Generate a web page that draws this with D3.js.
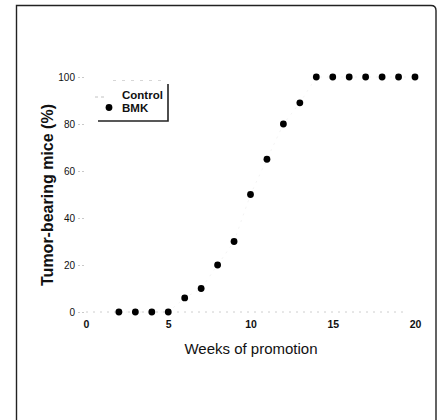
<!DOCTYPE html>
<html><head><meta charset="utf-8">
<script src="https://cdn.jsdelivr.net/npm/d3@7"></script>
<style>
html,body{margin:0;padding:0;background:#fff;}
svg{display:block;font-family:"Liberation Sans",Arial,Helvetica,sans-serif;}
</style></head>
<body>
<script>
// Data
const weeks = [2,3,4,5,6,7,8,9,10,11,12,13,14,15,16,17,18,19,20];
const bmk   = [0,0,0,0,6,10,20,30,50,65,80,89,100,100,100,100,100,100,100];
const controlWeeks = [0,2,4,6,8,10,12,14,16,18,19.5];
const control      = [0,0,0,0,0,0,0,0,0,0,0];
const xTicks = [0,5,10,15,20];
const yTicks = [0,20,40,60,80,100];
const seriesNames = ["Control","BMK"];

const W = 442, H = 420;
const svg = d3.select("body").append("svg").attr("width",W).attr("height",H);

// frame of the scanned panel
svg.append("path")
  .attr("d","M16.5,425 L16.5,5.5 L431,5.5 Q436,5.5 436,10.5 L436,425")
  .attr("fill","none").attr("stroke","#222").attr("stroke-width",1.4);

const x = d3.scaleLinear().domain([0,20]).range([86,415]);
const y = d3.scaleLinear().domain([0,100]).range([312,77]);

// y axis (no domain line, faint ticks)
const yAxis = svg.append("g").attr("transform","translate(84,0)")
  .call(d3.axisLeft(y).tickValues(yTicks).tickSize(6).tickPadding(3));
yAxis.select(".domain").remove();
yAxis.selectAll(".tick line").attr("stroke","#bbb").attr("stroke-dasharray","2,2").attr("stroke-width",0.8);
yAxis.selectAll(".tick text").attr("font-size",10).attr("fill","#111")
  .attr("font-family","Liberation Sans, Arial, sans-serif");

// x axis: labels only
const xAxis = svg.append("g").attr("transform","translate(0,318)")
  .call(d3.axisBottom(x).tickValues(xTicks).tickSize(0).tickPadding(3));
xAxis.select(".domain").remove();
xAxis.selectAll(".tick text").attr("font-size",10.5).attr("font-weight","bold").attr("fill","#111")
  .attr("font-family","Liberation Sans, Arial, sans-serif");

// axis titles
svg.append("text").attr("x",251).attr("y",354).attr("text-anchor","middle")
  .attr("font-size",15).attr("fill","#111").text("Weeks of promotion");
svg.append("text").attr("transform","translate(53,195) rotate(-90)").attr("text-anchor","middle")
  .attr("font-size",16).attr("font-weight","bold").attr("fill","#111").text("Tumor-bearing mice (%)");

// control series: faint dashed line
const line = d3.line().x(d=>x(d[0])).y(d=>y(d[1]));
svg.append("path").datum(controlWeeks.map((w,i)=>[w,control[i]]))
  .attr("d",line).attr("fill","none").attr("stroke","#c8c8c8")
  .attr("stroke-width",0.9).attr("stroke-dasharray","2,5");

// BMK series: very faint connecting line + black dots
const bmkData = weeks.map((w,i)=>[w,bmk[i]]);
svg.append("path").datum(bmkData).attr("d",line).attr("fill","none")
  .attr("stroke","#eeeeee").attr("stroke-width",0.7).attr("stroke-dasharray","2,5");
svg.selectAll("circle.bmk").data(bmkData).enter().append("circle")
  .attr("class","bmk").attr("cx",d=>x(d[0])).attr("cy",d=>y(d[1])).attr("r",3.4).attr("fill","#000");

// legend
const lg = svg.append("g");
lg.append("path").attr("d","M113,80.5 L163,80.5").attr("stroke","#ccc").attr("stroke-width",0.8).attr("stroke-dasharray","3,6");
lg.append("path").attr("d","M168,84 L168,121 L98,121").attr("fill","none").attr("stroke","#222").attr("stroke-width",1.6);
lg.append("path").attr("d","M95,97 L104,97").attr("stroke","#bbb").attr("stroke-width",0.9).attr("stroke-dasharray","3,3");
lg.append("circle").attr("cx",109).attr("cy",107.5).attr("r",3.4).attr("fill","#000");
lg.append("text").attr("x",122).attr("y",98.5).attr("font-size",11.5).attr("font-weight","bold").attr("fill","#111").text(seriesNames[0]);
lg.append("text").attr("x",122).attr("y",111.5).attr("font-size",11.5).attr("font-weight","bold").attr("fill","#111").text(seriesNames[1]);
</script>
</body></html>
